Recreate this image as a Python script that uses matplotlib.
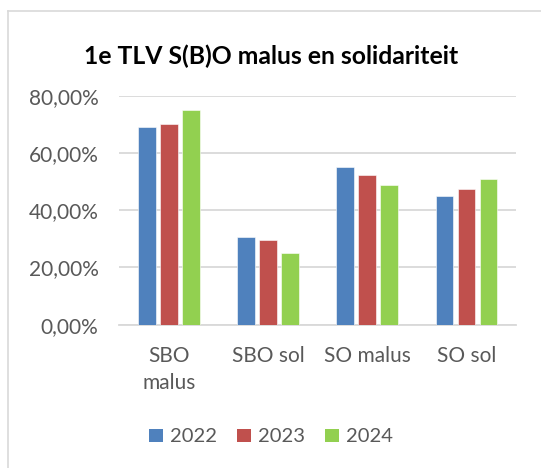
import matplotlib
matplotlib.use("Agg")
import matplotlib.pyplot as plt
from matplotlib.lines import Line2D
from matplotlib.patches import Patch
from matplotlib.ticker import FuncFormatter
import numpy as np

plt.rcParams['font.family'] = ['Lato', 'DejaVu Sans']

categories = ["SBO\nmalus", "SBO sol", "SO malus", "SO sol"]
series_names = ["2022", "2023", "2024"]
values_2022 = [0.692, 0.305, 0.550, 0.448]
values_2023 = [0.701, 0.297, 0.523, 0.474]
values_2024 = [0.749, 0.249, 0.487, 0.509]
colors = ["#4F81BD", "#C0504D", "#92D050"]
title = "1e TLV S(B)O malus en solidariteit"

W, H = 541, 468
fig = plt.figure(figsize=(W / 100, H / 100), dpi=100)
fig.patch.set_facecolor("white")

# chart frame (left and top edges visible)
fig.add_artist(Line2D([7.5 / W, 7.5 / W], [0, 1 - 10.5 / H], transform=fig.transFigure,
                      color="#D9D9D9", lw=1.2))
fig.add_artist(Line2D([7.5 / W, 1], [1 - 10.5 / H, 1 - 10.5 / H], transform=fig.transFigure,
                      color="#D9D9D9", lw=1.2))

left, right, top, bottom = 119.3, 516, 95.7, 324.7
ax = fig.add_axes([left / W, 1 - bottom / H, (right - left) / W, (bottom - top) / H])

x = np.arange(len(categories))
offset = 0.222
width = 0.178
for i, (vals, c) in enumerate(zip([values_2022, values_2023, values_2024], colors)):
    ax.bar(x + (i - 1) * offset, vals, width=width, color=c, zorder=3,
           edgecolor="white", linewidth=0.4)

ax.set_xlim(-0.5, len(categories) - 0.5)
ax.set_ylim(0, 0.8)
ax.set_yticks([0, 0.2, 0.4, 0.6, 0.8])
ax.yaxis.set_major_formatter(FuncFormatter(lambda v, p: f"{v*100:.2f}%".replace(".", ",")))
ax.set_xticks(x)
ax.set_xticklabels(categories, linespacing=1.45)
ax.yaxis.grid(True, color="#D9D9D9", linewidth=1.3, zorder=0)
ax.set_axisbelow(True)
for s in ["top", "right", "left"]:
    ax.spines[s].set_visible(False)
ax.spines["bottom"].set_color("#D9D9D9")
ax.spines["bottom"].set_linewidth(1.3)
ax.tick_params(axis="both", length=0, labelsize=15, labelcolor="#595959")
ax.tick_params(axis="y", pad=15)
ax.tick_params(axis="x", pad=15)
for lbl in ax.get_xticklabels():
    lbl.set_verticalalignment("top")

fig.text(271 / W, 1 - 56 / H, title, ha="center", va="center",
         fontsize=17.8, fontweight="bold", color="black")

handles = [Patch(facecolor=c, edgecolor="none") for c in colors]
fig.legend(handles, series_names, loc="center", bbox_to_anchor=(271 / W, 1 - 437 / H),
           ncol=3, frameon=False, fontsize=14.5, labelcolor="#595959",
           handlelength=0.68, handleheight=0.68, handletextpad=0.35, columnspacing=1.0)

fig.savefig("out.png", dpi=100)
